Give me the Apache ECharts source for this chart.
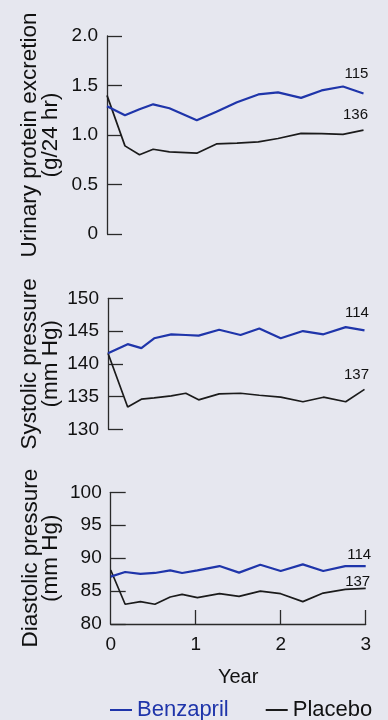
<!DOCTYPE html>
<html>
<head>
<meta charset="utf-8">
<script src="https://cdn.jsdelivr.net/npm/echarts@6/dist/echarts.min.js"></script>
<style>
html,body{margin:0;padding:0;background:#e6e7ef;}
#c{width:388px;height:720px;}
</style>
</head>
<body>
<div id="c"></div>
<script>
// ---- data ----
const yearsTop = [0, 0.21, 0.38, 0.54, 0.73, 1.05, 1.28, 1.52, 1.77, 2.0, 2.27, 2.51, 2.76, 3.0];
const benzProtein = [1.29, 1.20, 1.26, 1.31, 1.27, 1.15, 1.235, 1.33, 1.41, 1.43, 1.375, 1.45, 1.49, 1.42];
const placProtein = [1.40, 0.89, 0.80, 0.856, 0.83, 0.816, 0.91, 0.917, 0.93, 0.965, 1.017, 1.014, 1.007, 1.05];

const yearsMid = [0, 0.23, 0.39, 0.54, 0.74, 0.91, 1.06, 1.30, 1.55, 1.77, 2.02, 2.28, 2.52, 2.78, 3.0];
const benzSystolic = [141.6, 143.0, 142.4, 143.9, 144.5, 144.4, 144.3, 145.2, 144.4, 145.4, 143.9, 145.0, 144.5, 145.6, 145.1];
const placSystolic = [141.6, 133.4, 134.6, 134.8, 135.1, 135.5, 134.5, 135.4, 135.5, 135.2, 134.9, 134.2, 134.9, 134.2, 136.1];

const yearsBot = [0, 0.17, 0.35, 0.52, 0.70, 0.84, 1.02, 1.28, 1.51, 1.76, 2.0, 2.26, 2.5, 2.76, 3.0];
const benzDiastolic = [87.2, 87.9, 87.6, 87.75, 88.15, 87.75, 88.15, 88.8, 87.8, 89.0, 88.05, 89.05, 88.05, 88.8, 88.8];
const placDiastolic = [88.2, 83.0, 83.4, 83.0, 84.1, 84.5, 84.0, 84.6, 84.2, 85.0, 84.6, 83.4, 84.7, 85.25, 85.4];

const countsTop = ['115', '136'];
const countsMid = ['114', '137'];
const countsBot = ['114', '137'];

const seriesNames = ['Benzapril', 'Placebo'];
const yTitles = ['Urinary protein excretion\n(g/24 hr)', 'Systolic pressure\n(mm Hg)', 'Diastolic pressure\n(mm Hg)'];
const xTicks = [0, 1, 2, 3];
const xTitle = 'Year';

// ---- styles ----
const BLUE = '#1f35aa';
const BLACK = '#1b1b1b';
const AX = '#2a2a2a';
const FONT = 'Liberation Sans, Arial, Helvetica, sans-serif';

function pairs(xs, ys, countLabel, off) {
  return ys.map((v, i) => {
    const item = { value: [xs[i], v] };
    if (i === ys.length - 1) {
      item.label = {
        show: true, formatter: countLabel, position: 'inside',
        offset: off, color: '#111', fontSize: 15, fontFamily: FONT
      };
    }
    return item;
  });
}

const grids = [
  { left: 107, top: 36, width: 256.5, height: 198 },
  { left: 108, top: 298.3, width: 256.5, height: 131 },
  { left: 110.7, top: 492.3, width: 255, height: 131.7 }
];

const yRanges = [
  { min: 0, max: 2, interval: 0.5, fmt: v => v === 0 ? '0' : v.toFixed(1), gap: 46 },
  { min: 130, max: 150, interval: 5, fmt: v => String(v), gap: 47 },
  { min: 80, max: 100, interval: 5, fmt: v => String(v), gap: 49.5 }
];

const xAxes = grids.map((g, i) => ({
  type: 'value', gridIndex: i, min: 0, max: 3, interval: 1,
  show: i === 2,
  axisLine: { show: true, lineStyle: { color: AX, width: 1.3 } },
  axisTick: { show: true, inside: true, length: 14, lineStyle: { color: AX, width: 1.3 },
    customValues: i === 2 ? [1, 2, 3] : undefined },
  axisLabel: { show: true, margin: 11, fontSize: 19, color: '#111', fontFamily: FONT,
    customValues: i === 2 ? xTicks : undefined },
  splitLine: { show: false },
  name: i === 2 ? xTitle : '',
  nameLocation: 'middle', nameGap: 43, nameMoveOverlap: false,
  nameTextStyle: { fontSize: 20, color: '#111', fontFamily: FONT }
}));

const yAxes = yRanges.map((r, i) => ({
  type: 'value', gridIndex: i, min: r.min, max: r.max, interval: r.interval,
  axisLine: { show: true, lineStyle: { color: AX, width: 1.3 } },
  axisTick: { show: true, inside: true, length: 15, lineStyle: { color: AX, width: 1.3 } },
  axisLabel: { margin: 9, fontSize: 19, color: '#111', fontFamily: FONT, formatter: r.fmt },
  splitLine: { show: false },
  name: yTitles[i], nameLocation: 'middle', nameRotate: 90, nameGap: r.gap, nameMoveOverlap: false,
  nameTextStyle: { fontSize: 22.5, lineHeight: 20.5, color: '#111', fontFamily: FONT, align: 'center' }
}));

function line(name, idx, xs, ys, count, off, color, width) {
  return {
    name, type: 'line', xAxisIndex: idx, yAxisIndex: idx,
    data: pairs(xs, ys, count, off),
    symbol: 'circle', symbolSize: 0, showSymbol: true,
    lineStyle: { color, width }, itemStyle: { color },
    animation: false, z: color === BLUE ? 3 : 2
  };
}

const series = [
  line(seriesNames[0], 0, yearsTop, benzProtein, countsTop[0], [-7, -20], BLUE, 2.2),
  line(seriesNames[1], 0, yearsTop, placProtein, countsTop[1], [-8, -15], BLACK, 1.7),
  line(seriesNames[0], 1, yearsMid, benzSystolic, countsMid[0], [-7.5, -18], BLUE, 2.2),
  line(seriesNames[1], 1, yearsMid, placSystolic, countsMid[1], [-8, -14], BLACK, 1.7),
  line(seriesNames[0], 2, yearsBot, benzDiastolic, countsBot[0], [-6.5, -11], BLUE, 2.2),
  line(seriesNames[1], 2, yearsBot, placDiastolic, countsBot[1], [-8, -7], BLACK, 1.7)
];

const chart = echarts.init(document.getElementById('c'), null, { renderer: 'canvas' });
chart.setOption({
  backgroundColor: '#e6e7ef',
  animation: false,
  grid: grids,
  xAxis: xAxes,
  yAxis: yAxes,
  legend: {
    left: 105, top: 694, itemGap: 37, itemWidth: 22, itemHeight: 2, icon: 'rect',
    selectedMode: false,
    data: [
      { name: seriesNames[0], textStyle: { color: BLUE } },
      { name: seriesNames[1], textStyle: { color: '#111' } }
    ],
    textStyle: { fontSize: 22, fontFamily: FONT, padding: [0, 0, 0, 0] }
  },
  series
});
</script>
</body>
</html>
